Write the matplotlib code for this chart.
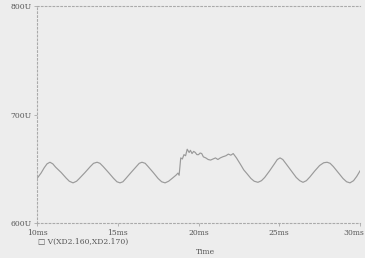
import matplotlib
matplotlib.use("Agg")
import matplotlib.pyplot as plt
from matplotlib.transforms import ScaledTranslation

time_ms = [10.0, 10.25, 10.45, 10.62, 10.80, 10.98, 11.15, 11.5, 11.8, 12.0, 12.23, 12.45, 12.62,
           12.97, 13.3, 13.5, 13.72, 13.9, 14.1, 14.43, 14.75, 14.95, 15.14, 15.32, 15.5, 15.82,
           16.15, 16.33, 16.5, 16.7, 16.88, 17.2, 17.5, 17.72, 17.93, 18.15, 18.4, 18.6, 18.73,
           18.8, 18.85, 18.9, 19.0, 19.1, 19.2, 19.3, 19.42, 19.5, 19.6, 19.7, 19.8, 19.9, 20.0,
           20.1, 20.2, 20.3, 20.45, 20.6, 20.75, 20.9, 21.05, 21.2, 21.35, 21.5, 21.7, 21.85,
           22.0, 22.15, 22.35, 22.6, 22.8, 23.0, 23.25, 23.45, 23.68, 23.9, 24.1, 24.4, 24.7,
           24.88, 25.05, 25.22, 25.45, 25.75, 26.05, 26.27, 26.47, 26.68, 26.9, 27.2, 27.5,
           27.75, 27.96, 28.15, 28.35, 28.65, 28.95, 29.17, 29.38, 29.6, 29.8, 30.0]
voltage = [641, 646, 651, 654.5, 656, 654.5, 651.5, 646.5, 641.5, 638.5, 637, 638.5, 641,
           646.5, 652, 655, 656, 655, 652, 646.5, 641, 638, 637, 638, 641, 646.5,
           652, 655, 656, 655, 652, 646.5, 641, 638, 637, 638.5, 641.5, 644, 646,
           644, 652, 660, 659, 663, 662, 668, 665, 667, 664, 666, 665, 663, 663,
           664.5, 664, 661, 660, 658.5, 658, 659, 660, 658.5, 660, 661, 662, 663.5,
           662.5, 664, 660, 654, 649, 645.5, 641, 638.5, 637.5, 639, 642, 648, 654.5,
           658.5, 660, 658.5, 654, 648, 642, 639, 637.5, 639, 642.5, 648, 653,
           655.5, 656, 655, 652, 646.5, 641, 638, 637, 639, 643, 648]

x_ticks = [10, 15, 20, 25, 30]
x_tick_labels = ["10ms", "15ms", "20ms", "25ms", "30ms"]
y_ticks = [600, 700, 800]
y_tick_labels = ["600U", "700U", "800U"]
legend_label = "V(XD2.160,XD2.170)"
x_title = "Time"

bg = "#ededed"
fig = plt.figure(figsize=(3.65, 2.58), dpi=100, facecolor=bg)
ax = fig.add_axes([37/365, 1 - 223/258, (360 - 37)/365, (223 - 6)/258])
ax.set_facecolor(bg)
ax.plot(time_ms, voltage, color="#9a9a9a", lw=0.85)
ax.set_xlim(10, 30)
ax.set_ylim(600, 800)
ax.set_xticks(x_ticks)
ax.set_xticklabels(x_tick_labels, fontsize=5.5, color="#555555", family="DejaVu Serif")
ax.set_yticks(y_ticks)
ax.set_yticklabels(y_tick_labels, fontsize=5.5, color="#555555", family="DejaVu Serif")
ax.tick_params(length=2, width=0.6, color="#aaaaaa", pad=2)
last = ax.get_xticklabels()[-1]
last.set_transform(last.get_transform() + ScaledTranslation(-0.06, 0, fig.dpi_scale_trans))
for side in ["left", "top", "bottom"]:
    ax.spines[side].set_linestyle((0, (1.5, 2)))
    ax.spines[side].set_color("#aaaaaa")
    ax.spines[side].set_linewidth(0.8)
ax.spines["right"].set_visible(False)

fig.text(38/365, 1 - 242/258, "\u25a1 " + legend_label, fontsize=5.5, color="#555555",
         family="DejaVu Serif", va="center", ha="left")
fig.text(206/365, 1 - 252/258, x_title, fontsize=5.5, color="#555555",
         family="DejaVu Serif", va="center", ha="center")

fig.savefig("out.png", dpi=100, facecolor=bg)
